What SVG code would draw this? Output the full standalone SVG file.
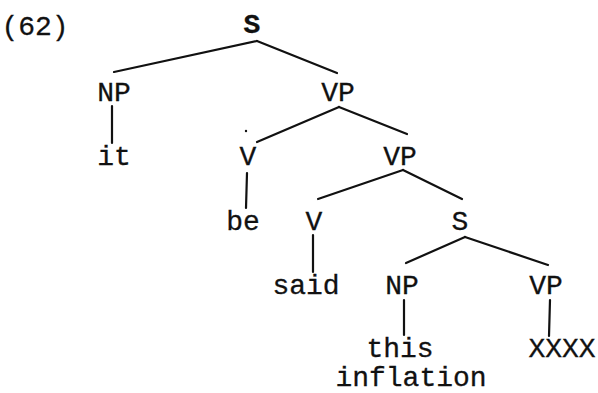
<svg xmlns="http://www.w3.org/2000/svg" width="598" height="393" viewBox="0 0 598 393">
<style>
text{font-family:"Liberation Mono","DejaVu Sans Mono",monospace;font-size:28px;fill:#111;stroke:#111;stroke-width:0.3;text-anchor:middle}
.c line{stroke:#111;stroke-width:2.2;stroke-linecap:round}
</style>
<rect width="598" height="393" fill="#fff"/>
<g id="label"><text x="35" y="35" stroke-width="0">(62)</text></g>
<g id="n-S1"><text x="252" y="33" font-weight="bold">S</text></g>
<g id="n-NP1"><text x="114" y="101">NP</text></g>
<g id="n-it"><text x="114" y="165">it</text></g>
<g id="n-VP1"><text x="338" y="101">VP</text></g>
<g id="n-V1"><text x="248" y="165">V</text><circle cx="246" cy="131" r="1.2" fill="#111"/></g>
<g id="n-be"><text x="243" y="230">be</text></g>
<g id="n-VP2"><text x="400" y="165">VP</text></g>
<g id="n-V2"><text x="314" y="230">V</text></g>
<g id="n-said"><text x="306" y="294">said</text></g>
<g id="n-S2"><text x="460" y="230">S</text></g>
<g id="n-NP2"><text x="402" y="294">NP</text></g>
<g id="n-this"><text x="400" y="357">this</text><text x="411" y="386">inflation</text></g>
<g id="n-VP3"><text x="546" y="294">VP</text></g>
<g id="n-XXXX"><text x="562" y="357">XXXX</text></g>
<g id="connectors" class="c">
<line x1="257" y1="41" x2="114" y2="72"/>
<line x1="257" y1="41" x2="337" y2="73"/>
<line x1="112" y1="106" x2="112" y2="143"/>
<line x1="339" y1="107" x2="257" y2="142"/>
<line x1="339" y1="107" x2="407" y2="134"/>
<line x1="247" y1="173" x2="246" y2="208"/>
<line x1="403" y1="170" x2="318" y2="199"/>
<line x1="403" y1="170" x2="462" y2="199"/>
<line x1="313" y1="235" x2="313" y2="272"/>
<line x1="465" y1="237" x2="406" y2="263"/>
<line x1="465" y1="237" x2="548" y2="265"/>
<line x1="404" y1="300" x2="404" y2="335"/>
<line x1="550" y1="300" x2="549" y2="336"/>
</g>
</svg>
